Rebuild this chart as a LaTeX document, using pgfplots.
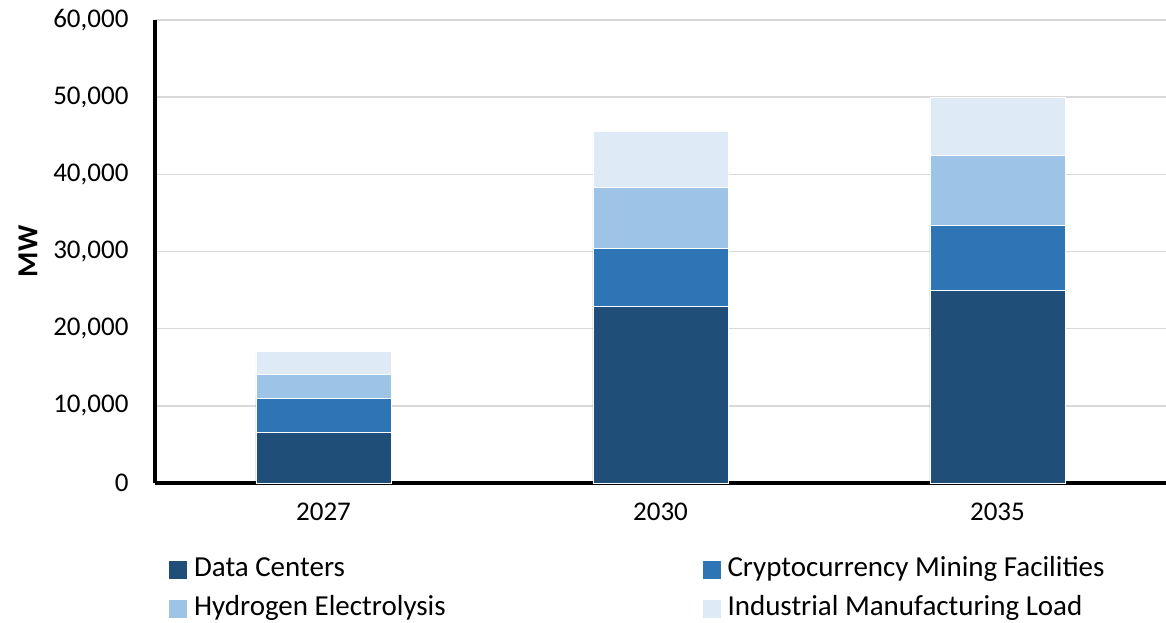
\documentclass[border=0pt]{standalone}
\usepackage{fontspec}
\setmainfont{Carlito}
\usepackage{pgfplots}
\pgfplotsset{compat=1.18}
\definecolor{dc}{HTML}{1F4E79}
\definecolor{crypto}{HTML}{2E75B6}
\definecolor{hydro}{HTML}{9DC3E6}
\definecolor{indus}{HTML}{DEEBF7}
\definecolor{gridgray}{HTML}{D9D9D9}

\begin{document}
\begin{tikzpicture}[x=1pt,y=1pt]
\useasboundingbox (0,0) rectangle (1166,622);
\begin{axis}[
    at={(155pt,139pt)}, anchor=south west,
    scale only axis, width=1011pt, height=463pt,
    ybar stacked, bar width=135pt,
    xmin=-0.5, xmax=2.5, ymin=0, ymax=60000,
    xtick={0,1,2}, xticklabels={2027,2030,2035},
    ytick={0,10000,...,60000},
    axis x line=bottom, axis y line=left,
    axis line style={black, line width=4pt, -},
    ymajorgrids, grid style={draw=gridgray, line width=1.5pt},
    major tick length=0pt,
    scaled y ticks=false,
    tick label style={font=\fontsize{27}{30}\selectfont},
    yticklabel style={/pgf/number format/fixed, /pgf/number format/1000 sep={,}, /pgf/number format/assume math mode=true, xshift=-23pt},
    xticklabel style={yshift=-16pt},
    ylabel={MW},
    every axis y label/.style={at={(axis description cs:-0.1256,0.5)}, rotate=90, anchor=center, font=\fontsize{29}{31}\selectfont\bfseries},
    legend columns=2,
    legend cell align=left,
    legend style={at={(axis description cs:0.0129,-0.16)}, anchor=north west, draw=none, fill=none, inner sep=0pt,
        font=\fontsize{29}{31}\selectfont,
        nodes={inner xsep=6pt, inner ysep=0pt, text height=19pt, text depth=6pt},
        row sep=14pt,
        /tikz/every even column/.append style={column sep=250pt}},
    legend image code/.code={\fill[#1] (0pt,-9.5pt) rectangle (19pt,9.5pt);},
]
\addplot[fill=dc, draw=white, line width=0.8pt] coordinates {(0,6600) (1,22900) (2,24900)};
\addlegendentry{Data Centers}
\addplot[fill=crypto, draw=white, line width=0.8pt] coordinates {(0,4400) (1,7550) (2,8500)};
\addlegendentry{Cryptocurrency Mining Facilities}
\addplot[fill=hydro, draw=white, line width=0.8pt] coordinates {(0,3100) (1,7900) (2,9100)};
\addlegendentry{Hydrogen Electrolysis}
\addplot[fill=indus, draw=white, line width=0.8pt] coordinates {(0,2900) (1,7150) (2,7500)};
\addlegendentry{Industrial Manufacturing Load}
\end{axis}
\end{tikzpicture}
\end{document}
